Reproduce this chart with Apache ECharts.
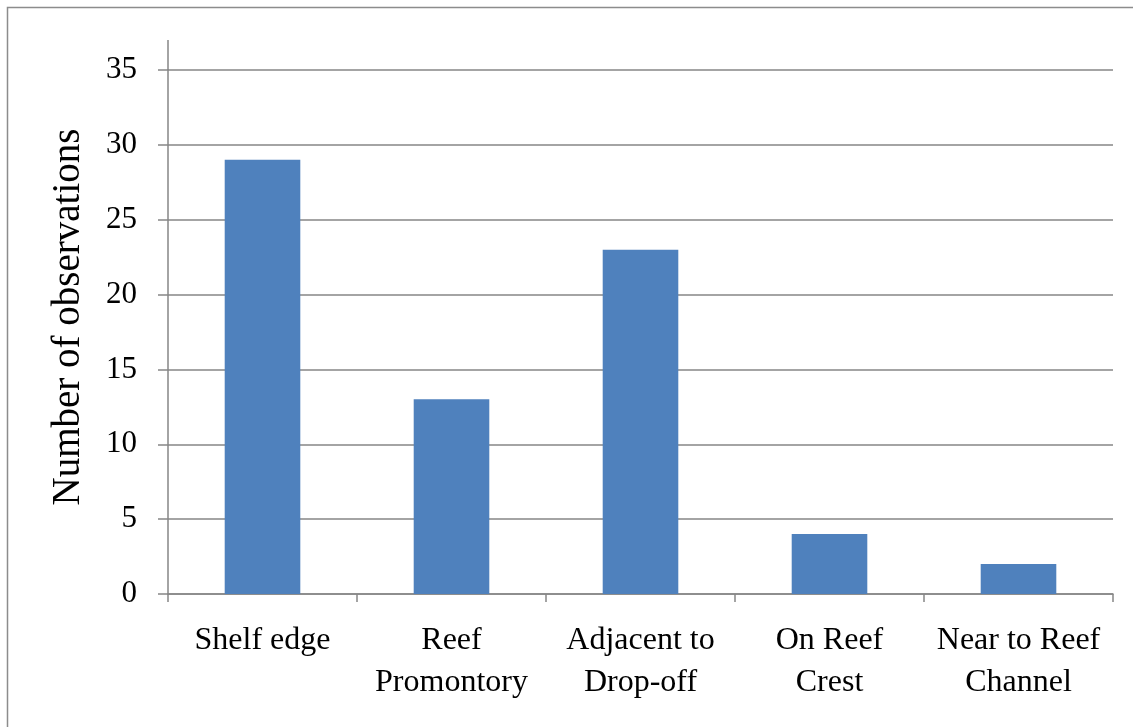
<!DOCTYPE html>
<html>
<head>
<meta charset="utf-8">
<script src="https://cdn.jsdelivr.net/npm/echarts@6/dist/echarts.min.js"></script>
<style>
  html, body { margin: 0; padding: 0; background: #fff; }
  #chart { width: 1133px; height: 727px; }
</style>
</head>
<body>
<div id="chart"></div>
<script>
// Observation counts by reef location
const categories = [
  'Shelf edge',
  'Reef\nPromontory',
  'Adjacent to\nDrop-off',
  'On Reef\nCrest',
  'Near to Reef\nChannel'
];
const observations = [29, 13, 23, 4, 2];
const yTicks = { min: 0, max: 35, interval: 5 };

const axisGrey = '#868686';
const serif = '"Liberation Serif", "Times New Roman", serif';

const chart = echarts.init(document.getElementById('chart'));
chart.setOption({
  backgroundColor: '#ffffff',
  animation: false,
  grid: { left: 168, right: 20, top: 70, bottom: 133 },
  graphic: [
    // chart-area frame
    { type: 'rect', shape: { x: 7.5, y: 7.5, width: 1140, height: 740 },
      style: { fill: 'none', stroke: '#8c8c8c', lineWidth: 1.5 }, silent: true },
    // value axis line continues above the top gridline
    { type: 'line', shape: { x1: 168, y1: 40, x2: 168, y2: 70 },
      style: { stroke: axisGrey, lineWidth: 1.5 }, silent: true }
  ],
  xAxis: {
    type: 'category',
    data: categories,
    axisLine: { lineStyle: { color: axisGrey, width: 1.5 } },
    axisTick: { show: true, length: 8, alignWithLabel: false, lineStyle: { color: axisGrey, width: 1.5 } },
    axisLabel: {
      color: '#000', fontFamily: serif, fontSize: 32, lineHeight: 42,
      margin: 26, interval: 0
    }
  },
  yAxis: {
    type: 'value',
    min: yTicks.min, max: yTicks.max, interval: yTicks.interval,
    name: 'Number of observations',
    nameLocation: 'middle',
    nameGap: 80,
    nameRotate: 90,
    nameTextStyle: {
      color: '#000', fontFamily: serif, fontSize: 39,
      padding: [0, 0, 0, 30]
    },
    axisLine: { show: true, lineStyle: { color: axisGrey, width: 1.5 } },
    axisTick: { show: true, length: 10, lineStyle: { color: axisGrey, width: 1.5 } },
    axisLabel: { color: '#000', fontFamily: serif, fontSize: 31, margin: 31 },
    splitLine: { show: true, lineStyle: { color: axisGrey, width: 1.5 } }
  },
  series: [{
    type: 'bar',
    data: observations,
    barWidth: '40%',
    itemStyle: { color: '#4f81bd' }
  }]
});
</script>
</body>
</html>
